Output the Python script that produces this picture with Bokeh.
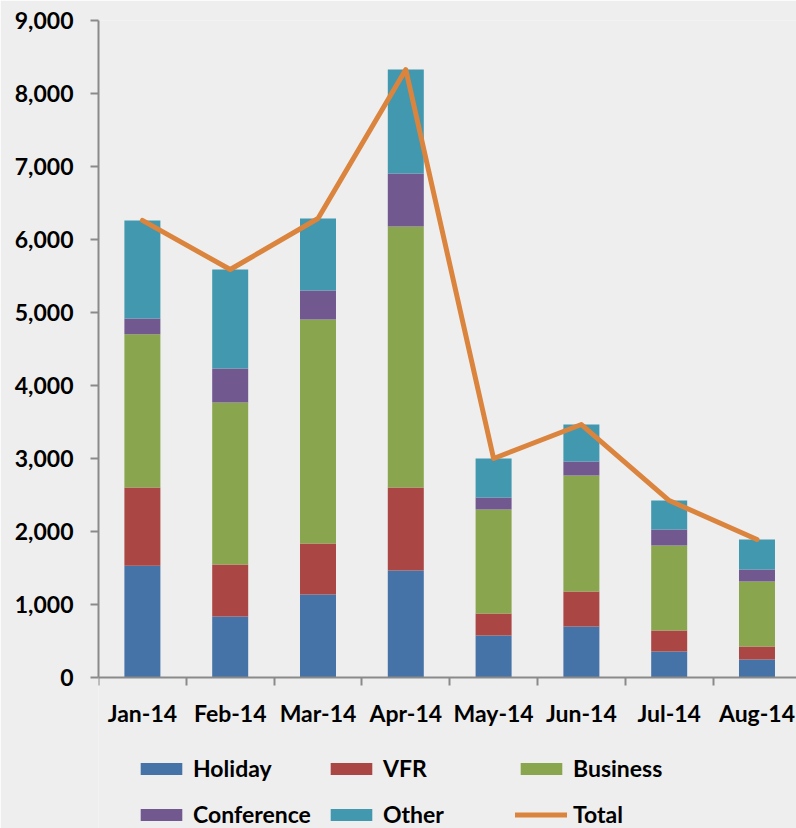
import numpy as np
from bokeh.plotting import figure
from bokeh.models import (ColumnDataSource, Range1d, FixedTicker, NumeralTickFormatter,
                          Legend, LegendItem)
from bokeh.embed import file_html
from bokeh.resources import INLINE

months = ["Jan-14", "Feb-14", "Mar-14", "Apr-14", "May-14", "Jun-14", "Jul-14", "Aug-14"]
holiday = [1527, 832, 1133, 1462, 571, 694, 352, 242]
vfr = [1073, 712, 699, 1138, 302, 480, 288, 178]
business = [2100, 2221, 3070, 3577, 1425, 1590, 1165, 891]
conference = [216, 465, 398, 726, 165, 192, 219, 164]
other = [1344, 1357, 986, 1425, 534, 507, 397, 412]
total = [h + v + b + c + o for h, v, b, c, o in zip(holiday, vfr, business, conference, other)]
series = ["Holiday", "VFR", "Business", "Conference", "Other"]
colors = ["#4572A7", "#AA4643", "#89A54E", "#71588F", "#4198AF"]
total_color = "#DB843D"
y_ticks = list(range(0, 9001, 1000))

x = (np.arange(len(months)) + 0.5).tolist()
source = ColumnDataSource(dict(x=x, Holiday=holiday, VFR=vfr, Business=business,
                               Conference=conference, Other=other, Total=total))

FONT = "Lato"
FS = "23px"
BG = "#eeeeee"
AX = "#8a8a8a"

# frame spans from y=20 px (9,000) down to the bottom edge; 0 sits at y~677 px
H, TOP, ZERO_PX = 828, 20, 676.7
ppu = (ZERO_PX - TOP) / 9000.0
y_low = -(H - ZERO_PX) / ppu

p = figure(width=796, height=H, output_backend="svg", toolbar_location=None,
           x_range=Range1d(0, 7.95), y_range=Range1d(y_low, 9000),
           min_border_left=98, min_border_right=0, min_border_top=TOP, min_border_bottom=0,
           background_fill_color=BG, border_fill_color=BG)
p.outline_line_color = None
p.xgrid.visible = False
p.ygrid.visible = False

bars = p.vbar_stack(series, x="x", width=0.41, color=colors, line_color=None, source=source)
line = p.line(x="x", y="Total", source=source, line_width=5, line_color=total_color,
              line_join="round", line_cap="round")

for ax in (p.xaxis[0], p.yaxis[0]):
    ax.axis_line_color = AX
    ax.axis_line_width = 2
    ax.major_tick_line_color = AX
    ax.major_tick_line_width = 2
    ax.minor_tick_line_color = AX
    ax.minor_tick_line_width = 2
    ax.major_label_text_font = FONT
    ax.major_label_text_font_style = "bold"
    ax.major_label_text_font_size = FS
    ax.major_label_text_color = "#000000"

p.yaxis.ticker = FixedTicker(ticks=y_ticks, minor_ticks=[])
p.yaxis.formatter = NumeralTickFormatter(format="0,0")
p.yaxis.bounds = (0, 9000)
p.yaxis.major_tick_out = 8
p.yaxis.major_tick_in = 0
p.yaxis.minor_tick_out = 0
p.yaxis.major_label_standoff = 17

p.xaxis.fixed_location = 0
p.xaxis.ticker = FixedTicker(ticks=x, minor_ticks=list(range(0, len(months) + 1)))
p.xaxis.major_label_overrides = {xi: m for xi, m in zip(x, months)}
p.xaxis.major_tick_out = 0
p.xaxis.major_tick_in = 0
p.xaxis.minor_tick_out = 8
p.xaxis.minor_tick_in = 0
p.xaxis.major_label_standoff = 14

rows = [
    [("Holiday", bars[0]), ("VFR", bars[1]), ("Business", bars[2])],
    [("Conference", bars[3]), ("Other", bars[4]), ("Total", line)],
]
row_offsets = [46, 0]
for items, oy in zip(rows, row_offsets):
    lg = Legend(items=[LegendItem(label=lab, renderers=[r]) for lab, r in items],
                orientation="horizontal", location=(37, oy),
                glyph_width=52, glyph_height=15, label_standoff=6,
                spacing=8, label_width=124, label_height=24, padding=0, margin=0,
                border_line_color=None, background_fill_alpha=0,
                label_text_font=FONT, label_text_font_style="bold",
                label_text_font_size=FS, label_text_color="#000000")
    p.add_layout(lg, "center")

open("out.html", "w").write(file_html(p, INLINE))
